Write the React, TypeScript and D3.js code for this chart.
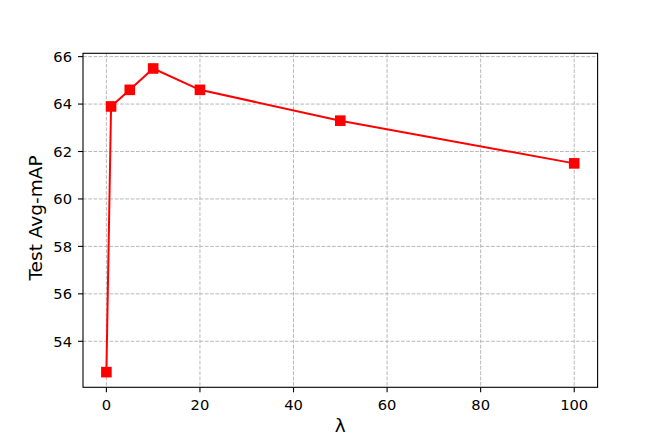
import React from "react";
import * as d3 from "d3";

const lambdas = [0, 1, 5, 10, 20, 50, 100];
const avgMap = [52.7, 63.9, 64.6, 65.5, 64.6, 63.3, 61.5];
const xTicks = [0, 20, 40, 60, 80, 100];
const yTicks = [54, 56, 58, 60, 62, 64, 66];

const W = 664;
const H = 443;
const L = 83;
const R = 597.6;
const T = 53.3;
const B = 387.3;

export default function App() {
  const x = d3.scaleLinear().domain([-5, 105]).range([L, R]);
  const y = d3.scaleLinear().domain([52.06, 66.14]).range([B, T]);
  const line = d3
    .line<number>()
    .x((_, i) => x(lambdas[i]))
    .y((d) => y(d));
  const font = "DejaVu Sans, sans-serif";
  return (
    <svg width={W} height={H} style={{ position: "absolute", left: 0, top: 0, background: "#fff" }}>
      <rect x={0} y={0} width={W} height={H} fill="#fff" />
      <g stroke="#b0b0b0" strokeWidth={0.9} strokeDasharray="3.7,1.6">
        {xTicks.map((t) => (
          <line key={"gx" + t} x1={x(t)} x2={x(t)} y1={T} y2={B} />
        ))}
        {yTicks.map((t) => (
          <line key={"gy" + t} x1={L} x2={R} y1={y(t)} y2={y(t)} />
        ))}
      </g>
      <path d={line(avgMap) || ""} fill="none" stroke="#ff0000" strokeWidth={2} />
      {avgMap.map((v, i) => (
        <rect key={i} x={x(lambdas[i]) - 5.3} y={y(v) - 5.3} width={10.6} height={10.6} fill="#ff0000" />
      ))}
      <rect x={L} y={T} width={R - L} height={B - T} fill="none" stroke="#000" strokeWidth={1.1} />
      <g fontFamily={font} fontSize={14.7} fill="#000">
        {xTicks.map((t) => (
          <g key={"tx" + t}>
            <line x1={x(t)} x2={x(t)} y1={B} y2={B + 5} stroke="#000" strokeWidth={1.1} />
            <text x={x(t)} y={B + 23} textAnchor="middle">{t}</text>
          </g>
        ))}
        {yTicks.map((t) => (
          <g key={"ty" + t}>
            <line x1={L - 5} x2={L} y1={y(t)} y2={y(t)} stroke="#000" strokeWidth={1.1} />
            <text x={L - 11} y={y(t)} dy="0.36em" textAnchor="end">{t}</text>
          </g>
        ))}
      </g>
      <text x={(L + R) / 2} y={432} textAnchor="middle" fontFamily={font} fontSize={18.5}>λ</text>
      <text
        transform={`translate(41.5, 218) rotate(-90)`}
        textAnchor="middle"
        fontFamily={font}
        fontSize={18.5}
      >
        Test Avg-mAP
      </text>
    </svg>
  );
}
